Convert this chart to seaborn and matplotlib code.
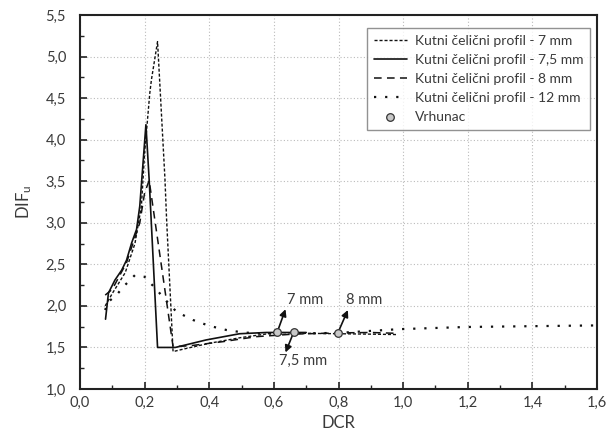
import matplotlib
matplotlib.use("Agg")
import matplotlib.pyplot as plt
import seaborn as sns
import numpy as np
from matplotlib.ticker import MultipleLocator, FuncFormatter

# ---- data ----
x_7 = [0.078, 0.10, 0.14, 0.17, 0.19, 0.20, 0.216, 0.221, 0.240, 0.263, 0.268, 0.288, 0.32, 0.40, 0.50, 0.61, 0.70, 0.80, 0.90, 0.98]
y_7 = [2.00, 2.15, 2.40, 2.75, 3.20, 3.84, 4.56, 4.72, 5.18, 3.52, 3.04, 1.45, 1.48, 1.55, 1.62, 1.68, 1.67, 1.665, 1.66, 1.655]

x_75 = [0.079, 0.088, 0.108, 0.129, 0.144, 0.160, 0.175, 0.185, 0.204, 0.214, 0.240, 0.295, 0.39, 0.494, 0.577, 0.661, 0.70]
y_75 = [1.84, 2.155, 2.31, 2.43, 2.55, 2.76, 2.92, 3.20, 4.18, 3.52, 1.50, 1.50, 1.59, 1.665, 1.68, 1.68, 1.68]

x_8 = [0.078, 0.10, 0.144, 0.185, 0.200, 0.214, 0.288, 0.34, 0.443, 0.546, 0.66, 0.798, 0.90, 0.978]
y_8 = [2.13, 2.20, 2.52, 3.00, 3.36, 3.51, 1.51, 1.52, 1.57, 1.63, 1.66, 1.675, 1.68, 1.67]

x_12 = [0.078, 0.085, 0.113, 0.134, 0.170, 0.200, 0.216, 0.237, 0.257, 0.280, 0.298, 0.35, 0.40, 0.453, 0.505, 0.556, 0.60, 0.80, 0.988, 1.194, 1.40, 1.60]
y_12 = [1.95, 2.04, 2.13, 2.23, 2.37, 2.35, 2.28, 2.20, 2.10, 2.01, 1.93, 1.83, 1.76, 1.71, 1.68, 1.67, 1.665, 1.675, 1.72, 1.746, 1.756, 1.765]

peak_x = [0.61, 0.661, 0.798]
peak_y = [1.68, 1.68, 1.675]
peak_labels = ["7 mm", "7,5 mm", "8 mm"]

series_labels = ["Kutni čelični profil - 7 mm", "Kutni čelični profil - 7,5 mm",
                 "Kutni čelični profil - 8 mm", "Kutni čelični profil - 12 mm"]
marker_label = "Vrhunac"

# ---- style ----
sns.set_theme(style="white")
plt.rcParams['font.family'] = ['Lato', 'DejaVu Sans']
plt.rcParams['mathtext.fontset'] = 'custom'
plt.rcParams['mathtext.rm'] = 'Lato'
plt.rcParams['mathtext.it'] = 'Lato'
txt = '#3a3a3a'

fig = plt.figure(figsize=(6.07, 4.38), dpi=100)
ax = fig.add_axes([80/607, 1-389/438, (597-80)/607, (389-15)/438])

styles = [(0, (2.2, 1.4)), '-', (0, (5, 3.5)), (0, (1, 4))]
widths = [1.0, 1.2, 1.1, 1.6]
data = [(x_7, y_7), (x_75, y_75), (x_8, y_8), (x_12, y_12)]
for (xs, ys), ls, lw, lab in zip(data, styles, widths, series_labels):
    sns.lineplot(x=xs, y=ys, ax=ax, color='#111111', linestyle=ls, linewidth=lw,
                 label=lab, estimator=None, sort=False)

sns.scatterplot(x=peak_x, y=peak_y, ax=ax, color='#c8c8c8', edgecolor='#333333',
                s=30, linewidth=0.9, label=marker_label, zorder=5)

# annotations
ann_text_pos = [(0.64, 2.07), (0.689, 1.34), (0.824, 2.07)]
ann_tip = [(0.636, 1.96), (0.636, 1.44), (0.829, 1.95)]
ha = ['left', 'center', 'left']
for (px, py), lab, (tx, ty), (ax_, ay_), h in zip(zip(peak_x, peak_y), peak_labels, ann_text_pos, ann_tip, ha):
    ax.annotate('', xy=(ax_, ay_), xytext=(px, py),
                arrowprops=dict(arrowstyle='-|>', color='#111111', lw=1.2,
                                mutation_scale=10, shrinkA=2, shrinkB=0))
    ax.text(tx, ty, lab, ha=h, va='center', fontsize=10.5, color=txt)

ax.set_xlim(0, 1.6)
ax.set_ylim(1.0, 5.5)
ax.xaxis.set_major_locator(MultipleLocator(0.2))
ax.xaxis.set_minor_locator(MultipleLocator(0.1))
ax.yaxis.set_major_locator(MultipleLocator(0.5))
ax.yaxis.set_minor_locator(MultipleLocator(0.25))
ax.xaxis.set_major_formatter(FuncFormatter(lambda v, p: f"{v:.1f}".replace('.', ',')))
ax.yaxis.set_major_formatter(FuncFormatter(lambda v, p: f"{v:.1f}".replace('.', ',')))
ax.tick_params(which='major', direction='in', length=5, width=1.2, color='#222222',
               labelsize=10.5, labelcolor=txt, bottom=True, left=True)
ax.tick_params(axis='x', which='major', pad=5)
ax.tick_params(axis='y', which='major', pad=10)
ax.tick_params(which='minor', direction='in', length=3, width=1.0, color='#222222',
               bottom=True, left=True)
ax.grid(True, which='major', color='#bbbbbb', linestyle=(0, (1, 2)), linewidth=0.8)
for s in ax.spines.values():
    s.set_color('#222222')
    s.set_linewidth(1.5)

ax.set_xlabel('DCR', fontsize=12, color=txt, labelpad=4)
ax.set_ylabel(r'DIF$_{\mathrm{u}}$', fontsize=12, color=txt, labelpad=8)

leg = ax.legend(loc='upper right', bbox_to_anchor=(590/607, 1-28/438), bbox_transform=fig.transFigure,
                frameon=True, fancybox=False, fontsize=10, handlelength=2.4,
                borderpad=0.5, labelspacing=0.5, handletextpad=0.55, borderaxespad=0)
leg.get_frame().set_edgecolor('#777777')
leg.get_frame().set_linewidth(1.0)
for t in leg.get_texts():
    t.set_color(txt)

fig.savefig('out.png', dpi=100)
